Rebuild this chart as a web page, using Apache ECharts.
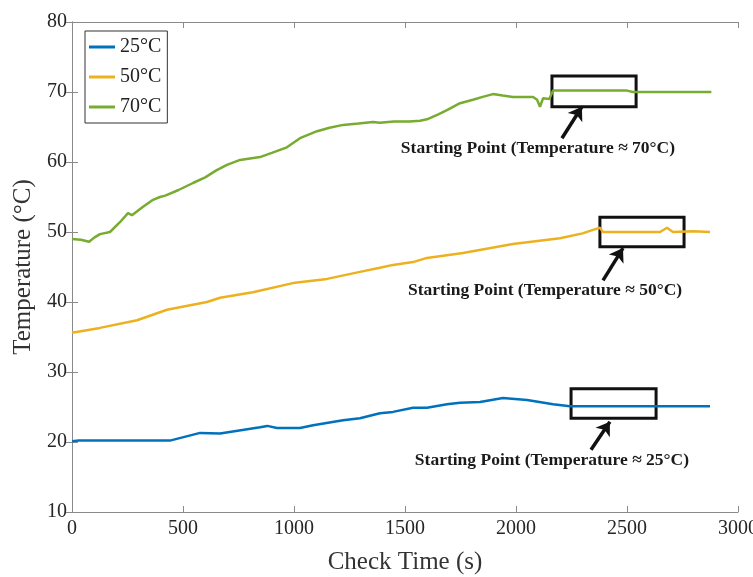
<!DOCTYPE html>
<html lang="en">
<head>
<meta charset="UTF-8">
<script src="https://cdn.jsdelivr.net/npm/echarts@6/dist/echarts.min.js"></script>
<style>
  html, body { margin: 0; padding: 0; background: #fff; }
  #chart { width: 753px; height: 577px; }
</style>
</head>
<body>
<div id="chart"></div>
<script>
  // readings taken from the figure (time in s, temperature in °C)
  var t70 = [0,40,77,100,126,171,216,252,270,320,365,396,420,480,545,600,650,698,757,847,900,968,1027,1104,1160,1221,1290,1356,1387,1450,1520,1568,1599,1650,1689,1748,1806,1850,1896,1940,1986,2040,2077,2095,2108,2122,2150,2167,2300,2400,2500,2527,2600,2700,2800,2880];
  var v70 = [49.0,48.9,48.6,49.2,49.7,50.0,51.4,52.7,52.4,53.6,54.6,55.0,55.2,56.0,57.0,57.8,58.8,59.6,60.3,60.7,61.3,62.1,63.4,64.4,64.9,65.3,65.5,65.7,65.6,65.8,65.8,65.9,66.1,66.8,67.4,68.4,68.9,69.3,69.7,69.5,69.3,69.3,69.3,68.9,67.9,69.1,69.0,70.2,70.2,70.2,70.2,70.0,70.0,70.0,70.0,70.0];

  var t50 = [0,126,293,428,608,667,815,995,1149,1297,1387,1446,1536,1599,1761,1986,2198,2300,2347,2378,2392,2500,2649,2680,2707,2800,2874];
  var v50 = [35.6,36.3,37.4,38.9,40.0,40.6,41.4,42.7,43.3,44.3,44.9,45.3,45.7,46.3,47.0,48.3,49.1,49.8,50.3,50.6,50.0,50.0,50.0,50.6,50.0,50.1,50.0];

  var t25 = [0,30,200,410,441,577,667,847,880,923,1027,1086,1221,1297,1387,1446,1536,1599,1689,1748,1838,1941,2050,2167,2243,2437,2635,2874];
  var v25 = [20.1,20.2,20.2,20.2,20.2,21.3,21.2,22.1,22.3,22.0,22.0,22.4,23.1,23.4,24.1,24.3,24.9,24.9,25.4,25.6,25.7,26.3,26.0,25.4,25.1,25.1,25.1,25.1];

  var names = ['25°C', '50°C', '70°C'];
  var colors = ['#0072BD', '#EDB120', '#77AC30'];

  // annotation boxes [t0, T0, t1, T1], arrows [tFrom, TFrom, tTo, TTo], label anchors [t, T]
  var boxes = [[2248,23.4,2631,27.6],[2378,47.9,2757,52.1],[2162,67.9,2541,72.3]];
  var arrows = [[2338,18.9,2423,22.9],[2392,43.1,2482,47.7],[2207,63.4,2297,67.9]];
  var notes = [[2162,17.4],[2131,41.7],[2099,62.0]];
  var noteText = ['Starting Point (Temperature ≈ 25°C)','Starting Point (Temperature ≈ 50°C)','Starting Point (Temperature ≈ 70°C)'];

  function pairs(t, v) {
    return t.map(function (x, i) { return [x, v[i]]; });
  }

  var serif = '"Liberation Serif", "DejaVu Serif", serif';
  var chart = echarts.init(document.getElementById('chart'));

  var series = [pairs(t25, v25), pairs(t50, v50), pairs(t70, v70)].map(function (d, i) {
    var b = boxes[i], a = arrows[i];
    return {
      name: names[i],
      type: 'line',
      data: d,
      showSymbol: false,
      color: colors[i],
      lineStyle: { width: 2.5 },
      animation: false,
      markArea: {
        silent: true,
        itemStyle: { color: 'rgba(0,0,0,0)', borderColor: '#111', borderWidth: 3 },
        data: [[{ coord: [b[0], b[1]] }, { coord: [b[2], b[3]] }]]
      },
      markLine: {
        silent: true,
        symbol: ['none', 'arrow'],
        symbolSize: 13,
        lineStyle: { color: '#111', width: 3.5, type: 'solid' },
        label: { show: false },
        data: [[{ coord: [a[0], a[1]] }, { coord: [a[2], a[3]] }]]
      },
      markPoint: {
        silent: true,
        symbol: 'circle',
        symbolSize: 0,
        label: {
          show: true,
          position: 'inside',
          formatter: noteText[i],
          fontFamily: serif,
          fontWeight: 'bold',
          fontSize: 17.5,
          color: '#1a1a1a'
        },
        data: [{ coord: notes[i] }]
      }
    };
  });

  var axisLine = { show: true, lineStyle: { color: '#8a8a8a', width: 1 } };
  var tick = { show: true, inside: true, length: 6, lineStyle: { color: '#8a8a8a' } };

  chart.setOption({
    backgroundColor: '#fff',
    animation: false,
    grid: { left: 72, right: 15, top: 22, bottom: 65, outerBoundsMode: 'none', containLabel: false },
    legend: {
      orient: 'vertical',
      left: 85,
      top: 31,
      data: names,
      icon: 'rect',
      itemWidth: 26,
      itemHeight: 3,
      itemGap: 10,
      padding: [6, 6, 6, 4],
      borderColor: '#333',
      borderWidth: 1,
      backgroundColor: '#fff',
      textStyle: { fontFamily: serif, fontSize: 20, color: '#222' }
    },
    xAxis: [{
      type: 'value',
      min: 0, max: 3000, interval: 500,
      name: 'Check Time (s)',
      nameLocation: 'middle',
      nameGap: 38,
      nameTextStyle: { fontFamily: serif, fontSize: 25, color: '#333' },
      axisLine: axisLine,
      axisTick: tick,
      splitLine: { show: false },
      axisLabel: { fontFamily: serif, fontSize: 20, color: '#262626', margin: 7, formatter: function (v) { return String(v); } }
    }, {
      type: 'value', position: 'top',
      min: 0, max: 3000, interval: 500,
      axisLine: axisLine, axisTick: tick,
      axisLabel: { show: false }, splitLine: { show: false }
    }],
    yAxis: [{
      type: 'value',
      min: 10, max: 80, interval: 10,
      name: 'Temperature (°C)',
      nameLocation: 'middle',
      nameGap: 34,
      nameTextStyle: { fontFamily: serif, fontSize: 25, color: '#333' },
      axisLine: axisLine,
      axisTick: tick,
      splitLine: { show: false },
      axisLabel: { fontFamily: serif, fontSize: 20, color: '#262626', margin: 5 }
    }, {
      type: 'value', position: 'right',
      min: 10, max: 80, interval: 10,
      axisLine: axisLine, axisTick: tick,
      axisLabel: { show: false }, splitLine: { show: false }
    }],
    series: series
  });
</script>
</body>
</html>
